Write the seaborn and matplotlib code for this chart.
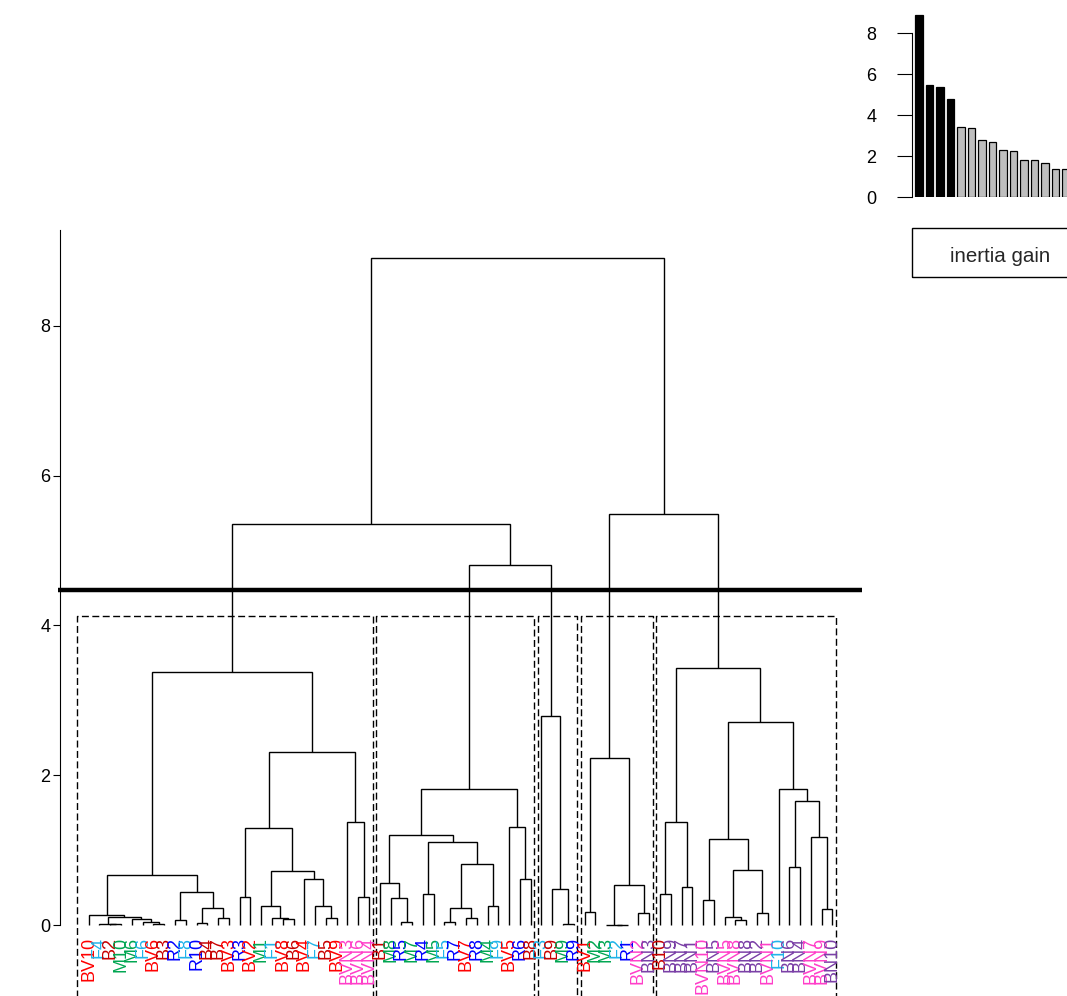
import matplotlib
matplotlib.use("Agg")
import matplotlib.pyplot as plt
import matplotlib.patches as patches
import numpy as np
import pandas as pd
import seaborn as sns

# leaf labels, left to right as in the dendrogram
LABELS = ['BV10', 'F4', 'B2', 'M10', 'M6', 'F6', 'BV6', 'B3', 'R2', 'F8',
          'R10', 'B4', 'B7', 'BV3', 'R3', 'BV2', 'M1', 'F1', 'BV8', 'B6',
          'BV4', 'F7', 'B5', 'BV9', 'BVN3', 'BVN6', 'BVN4',
          'B1', 'M8', 'R5', 'M7', 'R4', 'M5', 'F5', 'R7', 'BV7', 'R8', 'M4', 'F9', 'BV5', 'R6', 'B8',
          'F3', 'B9', 'M9', 'R9',
          'BV1', 'M2', 'M3', 'F2', 'R1', 'BVN2', 'BN3',
          'B10', 'BN9', 'BN7', 'BN1', 'BVN10', 'BN5', 'BVN5', 'BVN8', 'BN8', 'BN2', 'BVN1',
          'F10', 'BN6', 'BN4', 'BVN7', 'BVN9', 'BN10']

GROUP_COLORS = {'B': '#C80000', 'BV': '#FF0000', 'BVN': '#FF3EC9', 'BN': '#7A3FA6',
                'M': '#00A651', 'F': '#1FB4EA', 'R': '#0000FF'}

# sub-trees of the five clusters: (left, right, merge height), ints are leaf positions
CLUSTER_1 = (((0, ((1, (2, 3, 0.01), 0.02), (4, (5, (6, 7, 0.01), 0.04), 0.08), 0.11), 0.13),
              ((8, 9, 0.07), ((10, 11, 0.03), (12, 13, 0.10), 0.23), 0.44), 0.67),
             (((14, 15, 0.38), ((16, (17, (18, 19, 0.08), 0.10), 0.25),
                                (20, (21, (22, 23, 0.09), 0.25), 0.61), 0.72), 1.29),
              (24, (25, 26, 0.38), 1.38), 2.31),
             3.38)
CLUSTER_2 = (((27, (28, (29, 30, 0.04), 0.36), 0.56),
              ((31, 32, 0.41), (((33, 34, 0.04), (35, 36, 0.10), 0.23), (37, 38, 0.26), 0.82), 1.11),
              1.20),
             (39, (40, 41, 0.61), 1.31),
             1.82)
CLUSTER_3 = (42, (43, (44, 45, 0.01), 0.48), 2.79)
CLUSTER_4 = ((46, 47, 0.17), ((48, (49, 50, 0.0), 0.0), (51, 52, 0.16), 0.54), 2.23)
CLUSTER_5 = (((53, 54, 0.41), (55, 56, 0.51), 1.38),
             (((57, 58, 0.33), ((59, (60, 61, 0.07), 0.11), (62, 63, 0.16), 0.74), 1.15),
              (64, ((65, 66, 0.77), (67, (68, 69, 0.21), 1.18), 1.66), 1.82),
              2.71),
             3.43)

# upper merges
H_C2_C3 = 4.81
H_LEFT = 5.36
H_RIGHT = 5.49
H_ROOT = 8.90
CUT_LINE = 4.47
N_BARS = 15

TREE = ((CLUSTER_1, (CLUSTER_2, CLUSTER_3, H_C2_C3), H_LEFT),
        (CLUSTER_4, CLUSTER_5, H_RIGHT), H_ROOT)
CLUSTERS = [CLUSTER_1, CLUSTER_2, CLUSTER_3, CLUSTER_4, CLUSTER_5]

sns.set_theme(style="white")
plt.rcParams['font.family'] = ['Liberation Sans', 'DejaVu Sans']

W, H = 1067, 996
fig = plt.figure(figsize=(W / 100, H / 100), dpi=100)

# main dendrogram
ax = fig.add_axes([58 / W, 0, 804 / W, 766 / H])
ax.set_xlim(-2.85, 71.74)
ax.set_ylim(-0.948, 9.28)

heights = []


def draw(node):
    if isinstance(node, int):
        return float(node), 0.0
    left, right, h = node
    xl, hl = draw(left)
    xr, hr = draw(right)
    ax.plot([xl, xl, xr, xr], [hl, h, h, hr], color='black', lw=1.0,
            solid_capstyle='butt', solid_joinstyle='miter')
    heights.append(h)
    return (xl + xr) / 2, h


def count_leaves(node):
    if isinstance(node, int):
        return 1
    return count_leaves(node[0]) + count_leaves(node[1])


draw(TREE)

# leaf labels
for i, lab in enumerate(LABELS):
    grp = lab.rstrip('0123456789')
    ax.text(i, -0.16, lab, rotation=90, ha='center', va='top', fontsize=13,
            color=GROUP_COLORS[grp], clip_on=False)

# cluster rectangles
sorted_h = sorted(heights, reverse=True)
rect_top = (sorted_h[len(CLUSTERS) - 2] + sorted_h[len(CLUSTERS) - 1]) / 2
sizes = [count_leaves(c) for c in CLUSTERS]
start = 0
for k, n in enumerate(sizes):
    x0 = start - 0.34 if k > 0 else -1.08
    x1 = start + n - 1 + 0.33
    ax.plot([x0, x0, x1, x1], [-1.2, rect_top, rect_top, -1.2], color='black', lw=1.0,
            linestyle=(0, (5, 2.5)), clip_on=False)
    start += n

ax.axhline(CUT_LINE, color='black', lw=3.2)

for s in ['top', 'right', 'bottom']:
    ax.spines[s].set_visible(False)
ax.spines['left'].set_position(('data', -2.66))
ax.spines['left'].set_bounds(0, 9.28)
ax.spines['left'].set_color('black')
ax.spines['left'].set_linewidth(0.8)
ax.set_xticks([])
ax.set_yticks([0, 2, 4, 6, 8])
ax.tick_params(axis='y', left=True, length=5, width=0.8, pad=2, labelsize=13,
               colors='black')
ax.grid(False)
ax.set_facecolor('none')

# inertia gain inset
gains = pd.DataFrame({'rank': [str(i + 1) for i in range(N_BARS)],
                      'gain': sorted_h[:N_BARS]})
bar_colors = {r: ('black' if i < len(CLUSTERS) - 1 else '#BEBEBE')
              for i, r in enumerate(gains['rank'])}
ins = fig.add_axes([912 / W, 1 - 197 / H, 288 / W, 184 / H])
sns.barplot(data=gains, x='rank', y='gain', hue='rank', palette=bar_colors, legend=False,
            width=0.73, edgecolor='black', linewidth=0.9, saturation=1, ax=ins)
ins.set_xlim(-0.657, 26.77)
ins.set_ylim(0, 9)
ins.set_xlabel('')
ins.set_ylabel('')
ins.set_xticks([])
ins.set_yticks([0, 2, 4, 6, 8])
for s in ['top', 'right', 'bottom']:
    ins.spines[s].set_visible(False)
ins.spines['left'].set_bounds(0, 8)
ins.spines['left'].set_color('black')
ins.spines['left'].set_linewidth(0.8)
ins.tick_params(axis='y', left=True, length=10.8, width=0.8, pad=15, labelsize=13,
                colors='black')
ins.grid(False)
ins.set_facecolor('none')

box = patches.Rectangle((912 / W, 1 - 276.7 / H), 200 / W, 48.4 / H, transform=fig.transFigure,
                        fill=False, edgecolor='black', lw=1.0, clip_on=False)
fig.patches.append(box)
fig.text(950 / W, 1 - 257 / H, 'inertia gain', ha='left', va='center', fontsize=14.8)

fig.savefig('out.png', dpi=100, facecolor='white')
